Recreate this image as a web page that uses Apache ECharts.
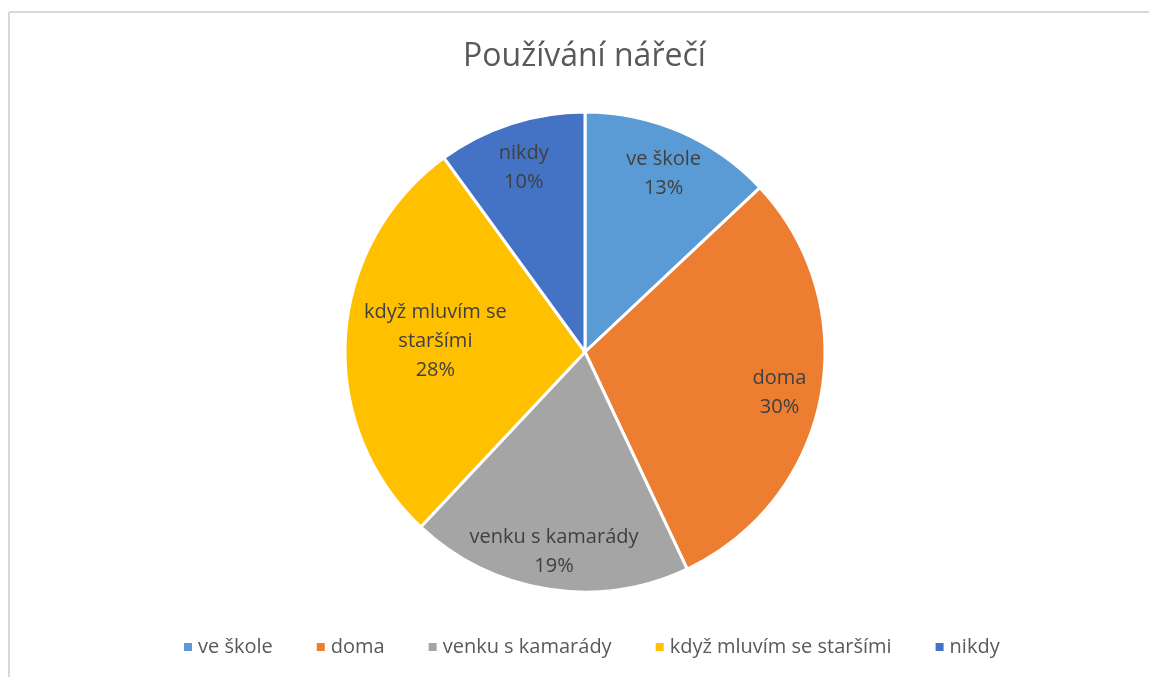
<!DOCTYPE html>
<html>
<head>
    <meta charset="utf-8">
    <script src="https://cdn.jsdelivr.net/npm/echarts@6/dist/echarts.min.js"></script>
    <style>
        html, body { margin: 0; padding: 0; background: #fff; }
        #chart { width: 1149px; height: 677px; }
    </style>
</head>
<body>
<div id="chart"></div>
<script type="text/javascript">
    // data
    var categories = ["ve škole", "doma", "venku s kamarády", "když mluvím se staršími", "nikdy"];
    var values = [13, 30, 19, 28, 10];
    var colors = ["#5B9BD5", "#ED7D31", "#A5A5A5", "#FFC000", "#4472C4"];

    var pieData = categories.map(function (name, i) {
        return { name: name, value: values[i] };
    });
    var labelNames = {
        "když mluvím se staršími": "když mluvím se\nstaršími"
    };

    var myChart = echarts.init(document.getElementById('chart'));
    myChart.setOption({
        color: colors,
        textStyle: { fontFamily: "Open Sans" },
        title: {
            text: "Používání nářečí",
            left: 458,
            top: 36,
            textStyle: {
                color: "#595959",
                fontSize: 32,
                fontWeight: "normal",
                fontFamily: "Open Sans"
            }
        },
        // frame lines (top + left only, like the original)
        graphic: [
            { type: "line", shape: { x1: 9, y1: 12, x2: 1149, y2: 12 }, style: { stroke: "#d9d9d9", lineWidth: 2 }, silent: true },
            { type: "line", shape: { x1: 9, y1: 12, x2: 9, y2: 677 }, style: { stroke: "#d9d9d9", lineWidth: 2 }, silent: true }
        ],
        legend: {
            data: categories,
            top: 632,
            left: 177,
            icon: "rect",
            itemWidth: 10,
            itemHeight: 10,
            itemGap: 42,
            selectedMode: false,
            textStyle: { color: "#595959", fontSize: 20, fontFamily: "Open Sans" }
        },
        series: [
            {
                name: "nářečí",
                type: "pie",
                center: [585, 352],
                radius: [0, 240],
                startAngle: 90,
                clockwise: true,
                silent: true,
                itemStyle: { borderColor: "#fff", borderWidth: 3 },
                label: { show: false },
                labelLine: { show: false },
                data: pieData
            },
            {
                // label ring, so labels sit near the outer part of each slice
                name: "popisky",
                type: "pie",
                center: [585, 352],
                radius: [150, 240],
                startAngle: 90,
                clockwise: true,
                silent: true,
                itemStyle: { color: "rgba(0,0,0,0)" },
                label: {
                    show: true,
                    position: "inside",
                    color: "#404040",
                    fontSize: 20,
                    lineHeight: 29,
                    fontFamily: "Open Sans",
                    formatter: function (p) {
                        var n = labelNames[p.name] || p.name;
                        return n + "\n" + p.value + "%";
                    }
                },
                labelLayout: function (params) {
                    // Excel pulls the long label a bit toward the middle
                    if (params.dataIndex === 3) return { dx: 48, dy: 2 };
                    return { dy: 4 };
                },
                labelLine: { show: false },
                data: pieData
            }
        ]
    });
    window.addEventListener('resize', function () {
        myChart.resize();
    });
</script>
</body>
</html>
